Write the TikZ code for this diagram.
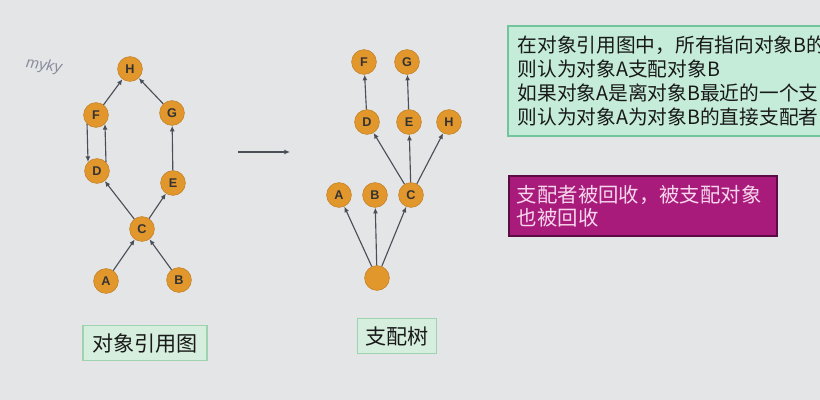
\documentclass[tikz,border=0pt]{standalone}
\usepackage{fontspec}
\setsansfont{Liberation Sans}
\newfontfamily\cjk{Noto Sans CJK SC}
\usetikzlibrary{arrows.meta}
\definecolor{screenbg}{HTML}{E3E5E7}
\definecolor{objfill}{HTML}{E2972C}
\definecolor{edgecol}{HTML}{4A4F57}
\definecolor{capfill}{HTML}{D6EEDD}
\definecolor{capline}{HTML}{9FD3B0}
\definecolor{notefill}{HTML}{C4ECD9}
\definecolor{noteline}{HTML}{72C49C}
\definecolor{alertfill}{HTML}{A91B7B}
\definecolor{alertline}{HTML}{5C0C44}
\definecolor{alerttext}{HTML}{F6D6EC}
\definecolor{markcol}{HTML}{8A8E9C}

\begin{document}
\begin{tikzpicture}[x=0.025cm,y=-0.025cm,
  obj/.style={circle,fill=objfill,draw=objfill!85!black,minimum size=0.62cm,inner sep=0pt,
    font=\sffamily\bfseries\fontsize{9}{9}\selectfont,text=black!80},
  ref/.style={-{Latex[length=4pt,width=3.5pt]},draw=edgecol,line width=0.8pt},
  caption/.style={draw=capline,fill=capfill,line width=1pt,font=\cjk\fontsize{15}{15}\selectfont,
    text=black!90,inner sep=0pt}]
\clip (0,0) rectangle (820,400);
\fill[screenbg] (0,0) rectangle (820,400);
\node[text=markcol,font=\sffamily\itshape\fontsize{11}{11}\selectfont,rotate=-8] (mark) at (44,66) {myky};
% object reference graph
\foreach \n/\x/\y in {H/130/69,F/96/115,G/172/113,D/97/171,E/173/183,C/142/229,A/106/281,B/179/280}{
  \node[obj] (l\n) at (\x,\y) {\n};
}
\foreach \a/\b in {A/C,B/C,C/D,C/E,E/G,G/H,F/H}{
  \draw[ref] (l\a) -- (l\b);
}
\draw[ref] (lF.225) -- (lD.135);
\draw[ref] (lD.45) -- (lF.315);
\node[caption,minimum width=3.1cm,minimum height=0.875cm] (capL) at (145,343) {对象引用图};
% arrow between the two pictures
\coordinate (arrS) at (238,152);
\coordinate (arrE) at (290,152);
\draw[ref] (arrS) -- (arrE);
% dominator tree
\foreach \n/\x/\y in {F/364/62,G/407/62,D/367/122,E/409/122,H/449/122,A/339/195,B/375/195,C/411/195}{
  \node[obj] (r\n) at (\x,\y) {\n};
}
\node[obj] (root) at (377,278) {};
\foreach \a/\b in {root/rA,root/rB,root/rC,rC/rD,rC/rE,rC/rH,rD/rF,rE/rG}{
  \draw[ref] (\a) -- (\b);
}
\node[caption,minimum width=1.98cm,minimum height=0.875cm] (capR) at (397,336) {支配树};
% notes
\node[draw=noteline,fill=notefill,line width=1.2pt,anchor=north west,minimum height=2.75cm,
  text width=9cm,align=left,inner xsep=0.25cm,font=\cjk\fontsize{14}{17}\selectfont,text=black!90] (note) at (507,25)
  {在对象引用图中，所有指向对象B的\\则认为对象A支配对象B\\如果对象A是离对象B最近的一个支\\则认为对象A为对象B的直接支配者};
\node[draw=alertline,fill=alertfill,line width=1.2pt,anchor=north west,minimum height=1.5cm,
  text width=6.3cm,align=left,inner xsep=0.2cm,font=\cjk\fontsize{14.5}{16.5}\selectfont,text=alerttext] (alert) at (508,175)
  {支配者被回收，被支配对象\\也被回收};
\end{tikzpicture}
\end{document}
